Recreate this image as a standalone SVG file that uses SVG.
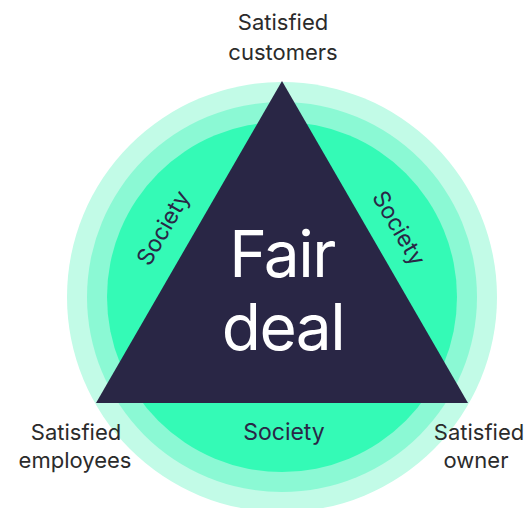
<svg xmlns="http://www.w3.org/2000/svg" width="525" height="508" viewBox="0 0 525 508">
<style>
.lbl{font-family:Inter,"Liberation Sans",sans-serif;font-size:22px;fill:#2b2b2b;text-anchor:middle}
.soc{font-family:Inter,"Liberation Sans",sans-serif;font-size:23px;fill:#2a2746;text-anchor:middle}
.big{font-family:Inter,"Liberation Sans",sans-serif;font-size:64px;fill:#ffffff;text-anchor:middle;letter-spacing:-1.5px}
</style>
<rect width="525" height="508" fill="#ffffff"/>
<g id="rings">
<circle cx="282" cy="297" r="215" fill="#c2fbe7"/>
<circle cx="282" cy="297" r="195" fill="#8bf9d4"/>
<circle cx="282" cy="297" r="175" fill="#34fab6"/>
</g>
<g id="society-labels">
<text class="soc" transform="translate(170,232) rotate(-60)">Society</text>
<text class="soc" transform="translate(392,232) rotate(60)">Society</text>
<text class="soc" x="284" y="440">Society</text>
</g>
<g id="fair-deal">
<polygon points="282,81 468,403 96,403" fill="#292645"/>
<text class="big" x="282" y="277">Fair</text>
<text class="big" x="283" y="350">deal</text>
</g>
<g id="customers">
<text class="lbl" x="283" y="30">Satisfied</text>
<text class="lbl" x="283" y="60">customers</text>
</g>
<g id="employees">
<text class="lbl" x="76" y="440">Satisfied</text>
<text class="lbl" x="75" y="468">employees</text>
</g>
<g id="owner">
<text class="lbl" x="479" y="440">Satisfied</text>
<text class="lbl" x="476" y="468">owner</text>
</g>
<g id="connectors"/>
</svg>
